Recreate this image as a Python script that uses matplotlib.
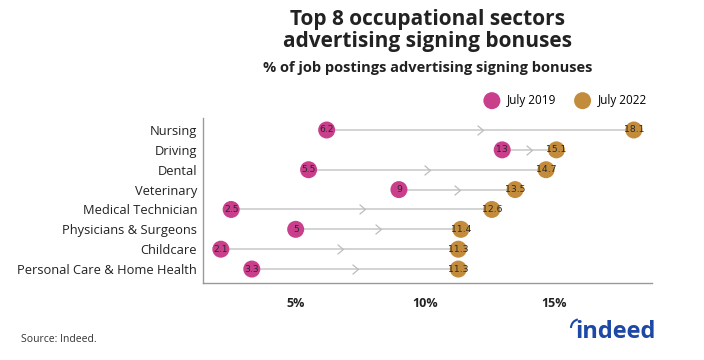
import numpy as np
import matplotlib
matplotlib.use('Agg')
import matplotlib.pyplot as plt
from matplotlib.patches import Arc
from matplotlib.path import Path

plt.rcParams['font.family'] = ['Open Sans', 'DejaVu Sans']

sectors = ["Nursing", "Driving", "Dental", "Veterinary", "Medical Technician",
           "Physicians & Surgeons", "Childcare", "Personal Care & Home Health"]
july_2019 = [6.2, 13, 5.5, 9, 2.5, 5, 2.1, 3.3]
july_2022 = [18.1, 15.1, 14.7, 13.5, 12.6, 11.4, 11.3, 11.3]
labels_2019 = ["6.2", "13", "5.5", "9", "2.5", "5", "2.1", "3.3"]
labels_2022 = ["18.1", "15.1", "14.7", "13.5", "12.6", "11.4", "11.3", "11.3"]

pink = "#C93F8B"
gold = "#C28C3C"
line_col = "#D3D3D3"

chevron = Path([(-0.6, 1), (0.6, 0), (-0.6, -1)], [Path.MOVETO, Path.LINETO, Path.LINETO])

fig = plt.figure(figsize=(7.04, 3.6), dpi=100)
ax = fig.add_axes([0.288, 0.214, 0.638, 0.458])

y = np.arange(len(sectors))
for i in range(len(sectors)):
    a, b = july_2019[i], july_2022[i]
    ax.plot([a, b], [y[i], y[i]], color=line_col, lw=1.4, zorder=1)
    mid = (a + b) / 2
    ax.plot(mid, y[i], marker=chevron, markerfacecolor='none', markeredgecolor="#BDBDBD",
            markeredgewidth=0.9, markersize=7, zorder=2)

ax.scatter(july_2019, y, s=150, color=pink, zorder=3, label="July 2019", edgecolors='none')
ax.scatter(july_2022, y, s=150, color=gold, zorder=3, label="July 2022", edgecolors='none')
for i in range(len(sectors)):
    ax.text(july_2019[i], y[i], labels_2019[i], ha='center', va='center',
            fontsize=6.7, color="#2a2a2a", zorder=4, family='DejaVu Sans')
    ax.text(july_2022[i], y[i], labels_2022[i], ha='center', va='center',
            fontsize=6.7, color="#2a2a2a", zorder=4, family='DejaVu Sans')

ax.set_xlim(1.4, 18.8)
ax.set_ylim(7.7, -0.6)
ax.set_yticks(y)
ax.set_yticklabels(sectors, fontsize=9.3, color="#222222")
ax.set_xticks([5, 10, 15])
ax.set_xticklabels(["5%", "10%", "15%"], fontsize=9, fontweight='bold', color="#222222")
ax.tick_params(length=0)
ax.tick_params(axis='y', pad=4)
ax.tick_params(axis='x', pad=10)
for s in ['top', 'right']:
    ax.spines[s].set_visible(False)
for s in ['left', 'bottom']:
    ax.spines[s].set_color("#999999")
    ax.spines[s].set_linewidth(1)

ax.legend(loc='lower right', bbox_to_anchor=(1.0, 1.04), ncol=2, frameon=False,
          fontsize=8.5, handletextpad=0.3, columnspacing=1.2, borderaxespad=0)

fig.text(0.607, 0.975, "Top 8 occupational sectors\nadvertising signing bonuses",
         ha='center', va='top', fontsize=15, fontweight='bold', color="#222222",
         linespacing=1.05)
fig.text(0.607, 0.812, "% of job postings advertising signing bonuses",
         ha='center', va='center', fontsize=10.5, fontweight='bold', color="#222222")
fig.text(0.03, 0.058, "Source: Indeed.", ha='left', va='center', fontsize=7.5, color="#333333")

fig.text(0.931, 0.078, "indeed", ha='right', va='center', fontsize=17,
         fontweight='bold', color="#1E48A6")
fig.patches.append(Arc((0.823, 0.088), 0.024, 0.05, theta1=95, theta2=175,
                       transform=fig.transFigure, color="#1E48A6", lw=1.5))

fig.savefig("out.png", dpi=100)
